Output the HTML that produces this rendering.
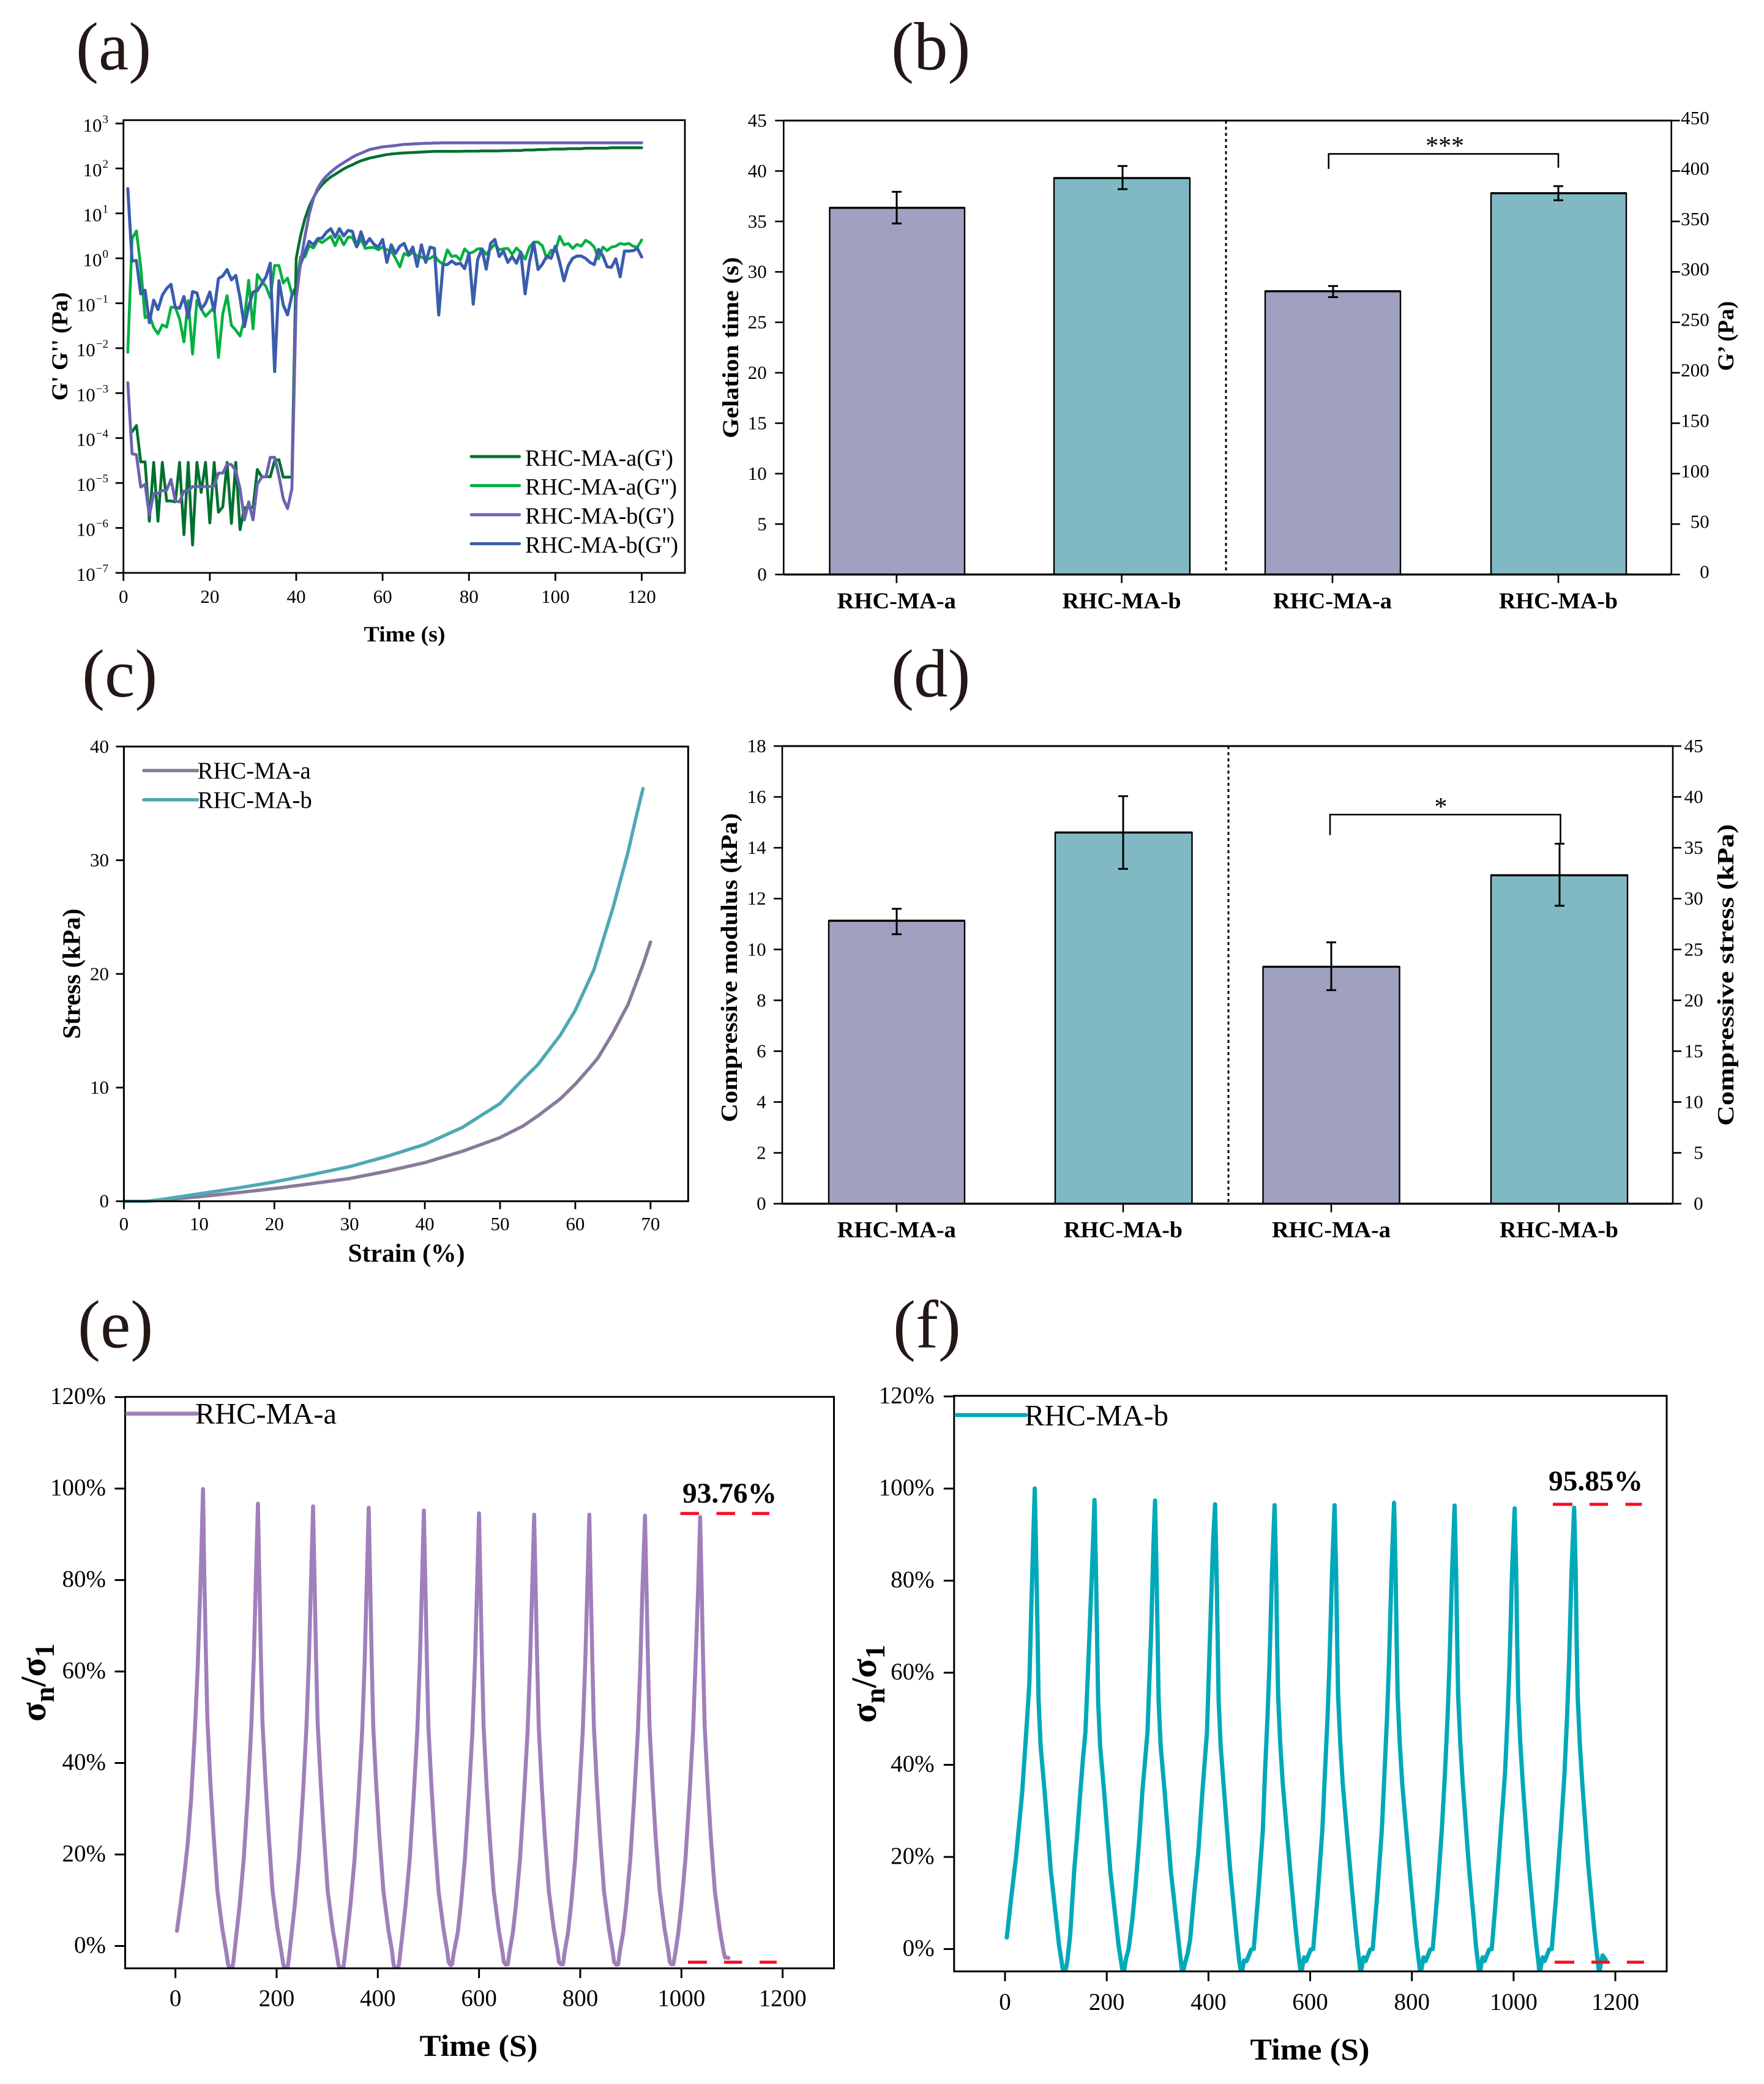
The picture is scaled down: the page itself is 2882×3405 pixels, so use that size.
<!DOCTYPE html>
<html lang="en">
<head>
<meta charset="utf-8">
<title>Hydrogel rheology and compression figure</title>
<style>
html,body{margin:0;padding:0;background:#fff;}
svg{display:block;}
text{font-family:"Liberation Serif",serif;fill:#000;}
.letter{font-size:111px;fill:#231815;}
.b{font-weight:bold;}
</style>
</head>
<body>
<svg id="fig" xmlns="http://www.w3.org/2000/svg" width="2882" height="3405" viewBox="0 0 2882 3405">
<rect x="0" y="0" width="2882" height="3405" fill="#fff"/>
<defs>
<clipPath id="clipE"><rect x="204.5" y="2282.3" width="1158" height="933.7"/></clipPath>
<clipPath id="clipF"><rect x="1558.8" y="2280.6" width="1164.2" height="940.4"/></clipPath>
</defs>

<text class="letter" x="124" y="113.6">(a)</text>
<text class="letter" x="1456" y="113.6">(b)</text>
<text class="letter" x="134" y="1138">(c)</text>
<text class="letter" x="1456" y="1138">(d)</text>
<text class="letter" x="127" y="2201.5">(e)</text>
<text class="letter" x="1459" y="2201.5">(f)</text>

<g id="panelA">
<text class="b" x="661" y="1048" font-size="36" text-anchor="middle" textLength="133" lengthAdjust="spacingAndGlyphs">Time (s)</text>
<text class="b" transform="translate(110,566) rotate(-90)" font-size="37" text-anchor="middle" textLength="177" lengthAdjust="spacingAndGlyphs">G' G'' (Pa)</text>
<text x="858" y="761" font-size="38" textLength="242" lengthAdjust="spacingAndGlyphs">RHC-MA-a(G')</text>
<text x="858" y="808" font-size="38" textLength="248" lengthAdjust="spacingAndGlyphs">RHC-MA-a(G'')</text>
<text x="858" y="855.4" font-size="38" textLength="244" lengthAdjust="spacingAndGlyphs">RHC-MA-b(G')</text>
<text x="858" y="903" font-size="38" textLength="250" lengthAdjust="spacingAndGlyphs">RHC-MA-b(G'')</text>
</g>

<g id="panelB">
<text class="b" transform="translate(1206,568) rotate(-90)" font-size="37" text-anchor="middle" textLength="296" lengthAdjust="spacingAndGlyphs">Gelation time (s)</text>
<text class="b" transform="translate(2832,549) rotate(-90)" font-size="37" text-anchor="middle" textLength="114" lengthAdjust="spacingAndGlyphs">G’ (Pa)</text>
<text x="2360.6" y="252" font-size="42" text-anchor="middle">***</text>
</g>

<g id="panelC">
<text class="b" x="664" y="2061.5" font-size="42" text-anchor="middle" textLength="191" lengthAdjust="spacingAndGlyphs">Strain (%)</text>
<text class="b" transform="translate(130.5,1591) rotate(-90)" font-size="41" text-anchor="middle" textLength="213" lengthAdjust="spacingAndGlyphs">Stress (kPa)</text>
<text x="322.7" y="1272" font-size="38.7" textLength="185" lengthAdjust="spacingAndGlyphs">RHC-MA-a</text>
<text x="322.7" y="1320" font-size="38.7" textLength="187" lengthAdjust="spacingAndGlyphs">RHC-MA-b</text>
</g>

<g id="panelD">
<text class="b" transform="translate(1204,1581) rotate(-90)" font-size="38" text-anchor="middle" textLength="505" lengthAdjust="spacingAndGlyphs">Compressive modulus (kPa)</text>
<text class="b" transform="translate(2832,1593) rotate(-90)" font-size="38" text-anchor="middle" textLength="493" lengthAdjust="spacingAndGlyphs">Compressive stress (kPa)</text>
<text x="2354" y="1332" font-size="42" text-anchor="middle">*</text>
</g>

<g id="panelE">
<text class="b" x="782" y="3359" font-size="49.6" text-anchor="middle" textLength="193" lengthAdjust="spacingAndGlyphs">Time (S)</text>
<text class="b" transform="translate(74,2749) rotate(-90)" font-size="58" text-anchor="middle">σ<tspan font-size="46" dy="14">n</tspan><tspan dy="-14">/σ</tspan><tspan font-size="46" dy="14">1</tspan></text>
<text x="319" y="2326" font-size="48.4" textLength="231" lengthAdjust="spacingAndGlyphs">RHC-MA-a</text>
<text class="b" x="1192" y="2455" font-size="47" text-anchor="middle" textLength="154" lengthAdjust="spacingAndGlyphs">93.76%</text>
</g>

<g id="panelF">
<text class="b" x="2140" y="3365" font-size="49.6" text-anchor="middle" textLength="195" lengthAdjust="spacingAndGlyphs">Time (S)</text>
<text class="b" transform="translate(1431,2751) rotate(-90)" font-size="58" text-anchor="middle">σ<tspan font-size="46" dy="14">n</tspan><tspan dy="-14">/σ</tspan><tspan font-size="46" dy="14">1</tspan></text>
<text x="1674" y="2329" font-size="48.4" textLength="235" lengthAdjust="spacingAndGlyphs">RHC-MA-b</text>
<text class="b" x="2607" y="2435" font-size="47" text-anchor="middle" textLength="154" lengthAdjust="spacingAndGlyphs">95.85%</text>
</g>
</svg>

<script>
/* ---------- Panel (a) data: log10 of modulus, t = 1..120 s ---------- */
const aXTicks = [0, 20, 40, 60, 80, 100, 120];
const aYExponents = [3, 2, 1, 0, -1, -2, -3, -4, -5, -6, -7];
const aGPrimeLog = [null,-3.86,-3.72,-4.53,-4.53,-5.85,-4.54,-5.85,-4.54,-5.4,
-5.4,-5.42,-4.54,-6.15,-4.54,-6.38,-4.54,-5.21,-4.54,-5.89,
-4.54,-5.65,-5.53,-4.54,-5.9,-4.54,-6.04,-5.55,-5.55,-5.55,
-4.7,-4.86,-4.86,-4.86,-4.5,-4.48,-4.87,-4.87,-4.87,0,
0.5,0.88,1.15,1.35,1.52,1.64,1.73,1.81,1.87,1.93,
1.99,2.04,2.08,2.13,2.17,2.2,2.23,2.25,2.27,2.29,
2.31,2.32,2.33,2.34,2.345,2.35,2.355,2.36,2.365,2.37,
2.375,2.38,2.38,2.38,2.38,2.38,2.38,2.38,2.385,2.385,
2.385,2.385,2.39,2.39,2.39,2.39,2.39,2.395,2.395,2.4,
2.4,2.4,2.41,2.41,2.41,2.42,2.42,2.42,2.43,2.43,
2.43,2.43,2.44,2.44,2.44,2.44,2.45,2.45,2.45,2.45,
2.45,2.45,2.46,2.46,2.46,2.46,2.46,2.46,2.46,2.46];
const aGDoubleLog = [-2.09,0.44,0.61,-0.19,-1.32,-1.26,-1.54,-1.68,-1.48,-1.53,
-1.09,-1.09,-1.35,-1.86,-0.94,-2.13,-0.94,-1.13,-1.29,-1.19,
-1.09,-2.21,-1.23,-0.83,-1.49,-1.6,-1.73,-1.35,-0.49,-1.57,
-0.36,-0.5,-0.63,-0.88,-0.16,-0.16,-0.55,-0.44,-0.79,-0.63,
0.03,0.03,0.28,0.23,0.41,0.35,0.42,0.49,0.28,0.5,
0.3,0.47,0.47,0.25,0.43,0.22,0.24,0.24,0.19,0.25,
0.19,0.16,0,-0.19,0.11,0.06,0.14,0.05,0.03,-0.03,
0,0.06,-0.06,-0.13,0.19,0.04,0.06,-0.04,0.21,0.11,
0.14,0.21,0.21,0.09,0.21,0.31,0.19,0.21,0.22,0.09,
0.23,0.13,-0.02,0.25,0.36,0.36,0.28,0,0.18,0.16,
0.49,0.3,0.33,0.22,0.31,0.27,0.4,0.35,0.25,-0.01,
0.25,0.17,0.25,0.27,0.33,0.31,0.33,0.27,0.25,0.41];
const bGPrimeLog = [-2.77,-4.35,-4.37,-5.09,-5.03,-5.72,-5.23,-5.23,-5.17,-5.16,
-4.92,-5.4,-5.42,-5.18,-5.17,-5.08,-5.08,-5.08,-5.08,-5.08,
-5.06,-4.78,-4.78,-4.58,-4.59,-4.73,-5.13,-5.82,-5.42,-5.82,
-5.03,-4.87,-4.86,-4.43,-4.43,-4.84,-5.35,-5.57,-5.13,-0.9,
-0.1,0.48,0.98,1.34,1.56,1.72,1.83,1.92,2,2.07,
2.13,2.19,2.25,2.3,2.34,2.38,2.42,2.44,2.46,2.48,
2.49,2.5,2.51,2.525,2.535,2.54,2.545,2.55,2.555,2.56,
2.56,2.565,2.565,2.57,2.57,2.57,2.57,2.57,2.57,2.57,
2.57,2.57,2.57,2.57,2.57,2.57,2.57,2.57,2.57,2.57,
2.57,2.57,2.57,2.57,2.57,2.57,2.57,2.57,2.57,2.57,
2.57,2.57,2.57,2.57,2.57,2.57,2.57,2.57,2.57,2.57,
2.57,2.57,2.57,2.57,2.57,2.57,2.57,2.57,2.57,2.57];
const bGDoubleLog = [1.55,-0.06,-0.05,-0.79,-0.71,-1.43,-0.93,-1.14,-0.82,-0.67,
-0.58,-1.09,-1.11,-0.85,-1.32,-0.74,-0.77,-1.13,-1,-0.75,
-1.18,-0.45,-0.39,-0.25,-0.48,-0.38,-0.88,-1.52,-1.07,-0.75,
-0.72,-0.57,-0.41,-0.11,-2.52,-0.5,-1.04,-1.26,-0.82,-0.69,
-0.13,0.13,0.38,0.3,0.44,0.45,0.58,0.66,0.47,0.66,
0.5,0.62,0.6,0.26,0.59,0.3,0.44,0.31,0.25,0.42,
-0.09,0.3,0.11,0.27,0.33,0.09,0.25,-0.18,0.3,-0.09,
0.25,0.22,-1.26,-0.14,-0.14,-0.06,-0.13,-0.11,-0.23,0.11,
-1.02,-0.03,0.21,-0.24,0.33,0.42,0.04,0.16,-0.09,0.04,
-0.11,0.14,-0.79,-0.09,0.35,-0.25,-0.13,0.05,0,0.27,
-0.09,-0.5,-0.16,0,0.05,0.05,0,-0.09,-0.14,0.2,
0.06,-0.19,-0.2,-0.01,-0.41,0.16,0.16,0.17,0.22,0.03];

/* ---------- Panel (b) data ---------- */
const bCategories = ["RHC-MA-a", "RHC-MA-b", "RHC-MA-a", "RHC-MA-b"];
const bLeftTicks = [0, 5, 10, 15, 20, 25, 30, 35, 40, 45];
const bRightTicks = [0, 50, 100, 150, 200, 250, 300, 350, 400, 450];
const bGelationValues = [36.35, 39.3];
const bGelationErrTop = [37.94, 40.5];
const bGelationErrBottom = [34.8, 38.2];
const bModulusValues = [280.8, 378];
const bModulusErrTop = [286, 385];
const bModulusErrBottom = [275, 371];

/* ---------- Panel (c) data ---------- */
const cXTicks = [0, 10, 20, 30, 40, 50, 60, 70];
const cYTicks = [0, 10, 20, 30, 40];
const cStrainA = [0, 3, 5, 10, 15, 20, 25, 30, 35, 40, 45, 50, 53, 55, 58, 60, 62, 63, 65, 67, 69, 70];
const cStressA = [0, 0, 0.1, 0.4, 0.75, 1.12, 1.55, 2.0, 2.65, 3.4, 4.4, 5.6, 6.6, 7.5, 9.0, 10.3, 11.8, 12.6, 14.8, 17.3, 20.8, 22.8];
const cStrainB = [0, 3, 5, 10, 15, 20, 25, 30, 35, 40, 45, 50, 53, 55, 58, 60, 62.5, 65, 67, 68, 69];
const cStressB = [0, 0, 0.15, 0.65, 1.15, 1.7, 2.35, 3.05, 3.95, 5.0, 6.5, 8.6, 10.7, 12.0, 14.6, 16.8, 20.4, 25.8, 30.7, 33.6, 36.3];

/* ---------- Panel (d) data ---------- */
const dCategories = ["RHC-MA-a", "RHC-MA-b", "RHC-MA-a", "RHC-MA-b"];
const dLeftTicks = [0, 2, 4, 6, 8, 10, 12, 14, 16, 18];
const dRightTicks = [0, 5, 10, 15, 20, 25, 30, 35, 40, 45];
const dModulusValues = [11.13, 14.6];
const dModulusErrTop = [11.6, 16.03];
const dModulusErrBottom = [10.6, 13.17];
const dStressValues = [23.3, 32.3];
const dStressErrTop = [25.7, 35.4];
const dStressErrBottom = [21.0, 29.3];

/* ---------- Panel (e) data ---------- */
const eXTicks = [0, 200, 400, 600, 800, 1000, 1200];
const eYTicks = [0, 20, 40, 60, 80, 100, 120];
const eTime = [3,10,16,24,31,38,44,50,54.5,57,60,63,69,75,83,93,100,104,108,
113,115,121,127,135,143,150,155,159,163,166,169,172,178,184,192,202,209,213,217,
222,224,230,236,244,252,259,264,268,272,275,278,281,287,293,301,311,318,322,326,
332,334,340,346,354,362,369,374,378,382,385,388,391,397,403,411,421,428,431,435,
441,443,449,455,463,471,478,483,487,491,494,497,500,506,512,520,530,537,540,544,
547,550,558,564,572,580,587,592,596,600,603,606,609,615,621,629,639,646,649,653,
657,660,667,673,681,689,696,701,705,709,712,715,718,724,730,738,748,755,758,762,
766,769,776,782,790,798,805,810,814,818,821,824,827,833,839,847,857,864,867,871,
875,878,885,891,899,907,914,919,923,928,931,934,937,943,949,957,967,974,977,980,
984,988,994,1000,1008,1016,1023,1028,1033,1037,1040,1043,1046,1052,1058,1066,1076,1083,1086,1093];
const eRatio = [3.3,9,14,22,32,46,61,81,99.9,82,65,50,36,25,12,3.5,-1,-4,-5.2,
-4.5,-3,3,9,19,33,48,63,80,96.7,80,63,49,36,25,12,3.5,-1,-4,-5.2,
-4.5,-3,3,9,19,33,48,63,80,96.1,80,63,49,36,25,12,3.5,-1,-4,-5.2,
-4.5,-3,3,9,19,33,47,62,79,95.8,79,62,48,35,24,12,3.5,-1,-4,-5.2,
-4.4,-3,3,9,19,33,47,62,78,95.2,79,62,48,35,24,12,3.5,-1,-3.5,-4.2,
-4,-1.5,3,9,19,33,47,62,78,94.6,78,62,48,35,24,12,3.5,-1,-3.5,-4.1,
-4,-1.5,3,9,19,33,47,62,78,94.3,78,62,48,35,24,12,3.5,-1,-3.5,-4,
-4,-1.5,3,9,19,33,47,62,78,94.3,78,62,48,35,24,12,3.5,-1,-3.5,-4.1,
-4,-1.5,3,9,19,33,47,62,78,94.1,78,62,48,35,24,12,3.5,-1,-3.5,-4,
-4,-1.5,3,9,19,33,47,62,78,93.76,78,62,48,35,24,12,3.5,-1,-2.5,-2.6];

/* ---------- Panel (f) data ---------- */
const fXTicks = [0, 200, 400, 600, 800, 1000, 1200];
const fYTicks = [0, 20, 40, 60, 80, 100, 120];
const fTime = [3.5,12,21.7,33.7,41.7,47.8,51.8,55,58.5,62,64,66,70,78,90,106,113,117,
122,128,136,142,148,153,158,166,173,176,179,181,183,187,195,207,223,230,233,
238,243,250,257,264,270,280,287,292,295,298,300,302,306,314,326,341,346,349,
354,359,364,372,380,388,397,403,409,413,416,418,420,424,431,442,456,461,465,
470,475,484,489,498,507,511,516,520,525,530,533,535,537,541,546,553,560,565,570,575,579,582,
588,592,601,606,615,624,629,634,638,643,648,651,653,655,659,664,671,678,683,688,693,697,699,
705,709,718,723,732,741,746,751,755,760,765,768,770,772,776,781,788,795,800,805,810,814,817,
823,827,836,841,850,859,865,870,874,879,884,887,889,891,895,900,906,912,917,922,926,930,933,
939,943,952,957,966,975,983,988,992,997,1002,1005,1007,1009,1013,1018,1024,1030,1035,1040,1045,1049,1051,
1057,1061,1070,1075,1084,1093,1100,1105,1109,1114,1119,1122,1124,1126,1130,1135,1141,1147,1152,1157,1162,1166,1168,1172,1175,1181];
const fRatio = [2.5,11,20,34,47,57.5,74.5,87,100,81,68,54,44,34,17,1,-4,-5.5,
-3,3,17,25,34,41,47,68,88,97.5,81,68,54,44,34,17,1,-4,-5.5,
-2,0,6,14,24,34,47,68,88,97.4,81,68,54,44,34,17,2,-3,-5.5,
-3,-1,2,12,21,34,47,68,88,96.6,81,68,54,44,34,18,2,-3,-5.5,
-2.5,-2.6,-0.1,0,12,26,38,50,62,82,96.4,82,67,55,45,36,27,18,12,6,0.6,-3,-5.5,
-1.8,-2.6,-0.1,0,12,26,38,50,62,82,96.4,82,67,55,45,36,27,18,12,6,0.6,-3,-5.5,
-1.8,-2.6,-0.1,0,12,26,38,50,62,82,96.9,82,67,55,45,36,27,18,12,6,0.6,-3,-5.5,
-1.8,-2.6,-0.1,0,12,26,38,50,62,82,96.3,82,67,55,45,36,27,18,12,6,0.6,-3,-5.5,
-1.8,-2.6,-0.1,0,12,26,38,50,62,82,95.7,82,67,55,45,36,27,18,12,6,0.6,-3,-5.5,
-1.8,-2.6,-0.1,0,12,26,38,50,62,82,95.85,82,67,55,45,36,27,18,12,6,0.6,-3,-5.5,-2.8,-1.4,-2.3];

/* ---------- helpers ---------- */
const SVGNS = 'http://www.w3.org/2000/svg';
function mk(tag, parent, name, attrs, txt) {
  const el = document.createElementNS(SVGNS, tag);
  
  
  for (const k in attrs) el.setAttribute(k, attrs[k]);
  if (txt !== undefined) el.textContent = txt;
  parent.appendChild(el);
  return el;
}
function lin(d0, d1, r0, r1) { return v => r0 + (v - d0) * (r1 - r0) / (d1 - d0); }
function seg(p, name, x1, y1, x2, y2, w, extra) {
  return mk('line', p, name, Object.assign({x1, y1, x2, y2, stroke: '#000', 'stroke-width': w}, extra || {}));
}
function polyline(p, name, xs, ys, X, Y, color, w, extra) {
  let d = '';
  for (let i = 0; i < xs.length; i++) {
    if (ys[i] === null) continue;
    d += (d ? 'L' : 'M') + X(xs[i]).toFixed(1) + ' ' + Y(ys[i]).toFixed(1);
  }
  return mk('path', p, name, Object.assign({d, fill: 'none', stroke: color, 'stroke-width': w, 'stroke-linejoin': 'round', 'stroke-linecap': 'round'}, extra || {}));
}
function tickLabel(p, name, x, y, size, anchor, txt) {
  return mk('text', p, name, {x, y, 'font-size': size, 'text-anchor': anchor}, txt);
}

/* ---------- Panel a ---------- */
(function () {
  const p = document.getElementById('panelA');
  const L = 201.7, R = 1119, T = 196.3, B = 936;
  const X = lin(0, 130, L, R);
  const Y = lin(-7, 3, B, 201.8);
  const times = aGDoubleLog.map((_, i) => i + 1);
  polyline(p, 'series-a-gdouble', times, aGDoubleLog, X, Y, '#00b140', 4.6);
  polyline(p, 'series-b-gdouble', times, bGDoubleLog, X, Y, '#3a5cad', 5);
  polyline(p, 'series-a-gprime', times, aGPrimeLog, X, Y, '#00702e', 4.6);
  polyline(p, 'series-b-gprime', times, bGPrimeLog, X, Y, '#6a62b0', 4.8);
  mk('rect', p, 'plot-frame-a', {x: L, y: T, width: R - L, height: B - T, fill: 'none', stroke: '#000', 'stroke-width': 2.8});
  aXTicks.forEach(v => {
    seg(p, 'x-tick-a', X(v), B, X(v), B + 13, 2.8);
    tickLabel(p, 'x-tick-label-a', X(v), 985, 31, 'middle', String(v));
  });
  aYExponents.forEach(e => {
    seg(p, 'y-tick-a', L - 13, Y(e), L, Y(e), 2.8);
    const t = tickLabel(p, 'y-tick-label-a', 177, Y(e) + 13, 31, 'end', '10');
    const s = mk('tspan', t, 'y-tick-exponent-a', {'font-size': 19, dy: -14}, e < 0 ? '\u2212' + (-e) : String(e));
    s.setAttribute('dx', 1);
  });
  const legendColors = ['#00702e', '#00b140', '#6a62b0', '#3a5cad'];
  const legendRows = [746, 793.4, 841, 888.4];
  legendColors.forEach((c, i) => {
    seg(p, 'legend-line-a', 770, legendRows[i], 848.6, legendRows[i], 5, {stroke: c, 'stroke-linecap': 'round'});
  });
})();

/* ---------- Bar panels ---------- */
function barPanel(cfg) {
  const p = document.getElementById(cfg.id);
  const YL = lin(0, cfg.leftMax, cfg.B, cfg.T);
  const YR = lin(0, cfg.rightMax, cfg.B, cfg.T);
  const fills = ['#a0a0c0', '#80b9c4'];
  const all = cfg.leftVals.map((v, i) => ({v, t: cfg.leftTop[i], b: cfg.leftBot[i], Y: YL}))
    .concat(cfg.rightVals.map((v, i) => ({v, t: cfg.rightTop[i], b: cfg.rightBot[i], Y: YR})));
  all.forEach((d, i) => {
    const [x0, x1] = cfg.bars[i];
    mk('rect', p, 'bar', {x: x0, y: d.Y(d.v), width: x1 - x0, height: cfg.B - d.Y(d.v), fill: fills[i % 2], stroke: '#000', 'stroke-width': 2.4});
    seg(p, 'bar-top-edge', x0, d.Y(d.v), x1, d.Y(d.v), 3.4);
    const c = cfg.err[i];
    seg(p, 'error-bar', c, d.Y(d.t), c, d.Y(d.b), 3);
    seg(p, 'error-cap-top', c - 8, d.Y(d.t), c + 8, d.Y(d.t), 3);
    seg(p, 'error-cap-bottom', c - 8, d.Y(d.b), c + 8, d.Y(d.b), 3);
  });
  seg(p, 'divider', cfg.div, cfg.T, cfg.div, cfg.B, 3, {'stroke-dasharray': '5 5'});
  seg(p, 'axis-left', cfg.L, cfg.T, cfg.L, cfg.B, 2.6);
  seg(p, 'axis-right', cfg.R, cfg.T, cfg.R, cfg.B, 2.6);
  seg(p, 'axis-top', cfg.L, cfg.T, cfg.R, cfg.T, 3);
  seg(p, 'axis-bottom', cfg.L, cfg.B, cfg.R, cfg.B, 3.4);
  cfg.leftTicks.forEach(v => {
    seg(p, 'y-tick-left', cfg.L - 14, YL(v), cfg.L, YL(v), 2.6);
    tickLabel(p, 'y-tick-label-left', cfg.labL, YL(v) + 10, 31, 'end', String(v));
  });
  cfg.rightTicks.forEach(v => {
    seg(p, 'y-tick-right', cfg.R, YR(v), cfg.R + 14, YR(v), 2.6);
    tickLabel(p, 'y-tick-label-right', cfg.labR, YR(v) + cfg.rOff, 31, 'end', String(v));
  });
  cfg.cats.forEach((c, i) => {
    const cx = cfg.centers[i];
    seg(p, 'x-tick', cx, cfg.B, cx, cfg.B + 14, 2.6);
    mk('text', p, 'x-tick-label', {x: cx, y: cfg.catY, 'font-size': 37, 'font-weight': 'bold', 'text-anchor': 'middle', textLength: 194, lengthAdjust: 'spacingAndGlyphs'}, c);
  });
  const br = cfg.bracket;
  mk('path', p, 'significance-bracket', {d: 'M' + br.x0 + ' ' + br.y0 + 'V' + br.y + 'H' + br.x1 + 'V' + br.y1, fill: 'none', stroke: '#000', 'stroke-width': 2.6});
}
barPanel({
  id: 'panelB', L: 1280.3, R: 2730.7, T: 197, B: 938.7, leftMax: 45, rightMax: 450,
  leftVals: bGelationValues, leftTop: bGelationErrTop, leftBot: bGelationErrBottom,
  rightVals: bModulusValues, rightTop: bModulusErrTop, rightBot: bModulusErrBottom,
  bars: [[1355.5, 1576], [1722, 1944], [2067, 2288], [2436, 2657]],
  err: [1465, 1834, 2178, 2546], centers: [1464.8, 1832.6, 2177, 2546], div: 2003,
  leftTicks: bLeftTicks, rightTicks: bRightTicks, labL: 1252.7, labR: 2792.6, rOff: 6,
  cats: bCategories, catY: 993.8,
  bracket: {x0: 2170.7, x1: 2546, y: 251.4, y0: 276, y1: 274}
});
barPanel({
  id: 'panelD', L: 1278, R: 2733, T: 1219, B: 1966.7, leftMax: 18, rightMax: 45,
  leftVals: dModulusValues, leftTop: dModulusErrTop, leftBot: dModulusErrBottom,
  rightVals: dStressValues, rightTop: dStressErrTop, rightBot: dStressErrBottom,
  bars: [[1354, 1576], [1724, 1947.5], [2063.5, 2286.6], [2436, 2659]],
  err: [1465, 1835, 2175, 2548], centers: [1464.8, 1835, 2175, 2547], div: 2007,
  leftTicks: dLeftTicks, rightTicks: dRightTicks, labL: 1251.6, labR: 2782.6, rOff: 10,
  cats: dCategories, catY: 2021.7,
  bracket: {x0: 2173, x1: 2549.5, y: 1331, y0: 1364.4, y1: 1379}
});

/* ---------- Panel c ---------- */
(function () {
  const p = document.getElementById('panelC');
  const L = 202.4, R = 1124.3, T = 1219.8, B = 1962.7;
  const X = lin(0, 75, L, R);
  const Y = lin(0, 40, B, T);
  polyline(p, 'series-c-a', cStrainA, cStressA, X, Y, '#8a7a9a', 5.5);
  polyline(p, 'series-c-b', cStrainB, cStressB, X, Y, '#4fa9b4', 5.5);
  mk('rect', p, 'plot-frame-c', {x: L, y: T, width: R - L, height: B - T, fill: 'none', stroke: '#000', 'stroke-width': 3});
  cXTicks.forEach(v => {
    seg(p, 'x-tick-c', X(v), B, X(v), B + 13, 2.8);
    tickLabel(p, 'x-tick-label-c', X(v), 2010, 31, 'middle', String(v));
  });
  cYTicks.forEach(v => {
    seg(p, 'y-tick-c', L - 13, Y(v), L, Y(v), 2.8);
    tickLabel(p, 'y-tick-label-c', 178, Y(v) + 10, 31, 'end', String(v));
  });
  seg(p, 'legend-line-c-a', 235, 1259, 322.7, 1259, 5.5, {stroke: '#8a7a9a', 'stroke-linecap': 'round'});
  seg(p, 'legend-line-c-b', 235, 1306.7, 322.7, 1306.7, 5.5, {stroke: '#4fa9b4', 'stroke-linecap': 'round'});
})();

/* ---------- Cyclic panels ---------- */
function cyclicPanel(cfg) {
  const p = document.getElementById(cfg.id);
  const X = lin(-100, 1300, cfg.x0 - 100 * cfg.sx, cfg.x0 + 1300 * cfg.sx);
  const Y = lin(0, 100, cfg.y0, cfg.y100);
  polyline(p, cfg.series, cfg.t, cfg.v, X, Y, cfg.color, cfg.w, {'clip-path': 'url(#' + cfg.clip + ')'});
  mk('rect', p, 'plot-frame', {x: cfg.L, y: cfg.T, width: cfg.R - cfg.L, height: cfg.B - cfg.T, fill: 'none', stroke: '#000', 'stroke-width': 3});
  cfg.xTicks.forEach(v => {
    seg(p, 'x-tick', X(v), cfg.B, X(v), cfg.B + 16, 3);
    tickLabel(p, 'x-tick-label', X(v), cfg.xLabY, 39, 'middle', String(v));
  });
  cfg.yTicks.forEach(v => {
    seg(p, 'y-tick', cfg.L - 17, Y(v), cfg.L, Y(v), 3);
    tickLabel(p, 'y-tick-label', cfg.labR, Y(v) + 11, 39, 'end', v + '%');
  });
  seg(p, 'legend-line', cfg.leg[0], cfg.leg[2], cfg.leg[1], cfg.leg[2], 6.5, {stroke: cfg.color, 'stroke-linecap': 'round'});
  cfg.dashes.forEach(d => {
    seg(p, 'red-reference-dash', d[0], d[2], d[1], d[2], 5, {stroke: '#fb0a23'});
  });
}
cyclicPanel({
  id: 'panelE', clip: 'clipE', series: 'series-e', t: eTime, v: eRatio, color: '#a07fbb', w: 6.5,
  L: 204.5, R: 1362.5, T: 2282.3, B: 3216, x0: 286.6, sx: 0.8267,
  y0: 3179.5, y100: 2432.1, xTicks: eXTicks, yTicks: eYTicks, xLabY: 3277.7, labR: 173,
  leg: [208, 321.4, 2309.7],
  dashes: [[1111.6, 1142, 2472.9], [1170.5, 1201, 2472.9], [1228.6, 1257, 2472.9],
           [1124, 1155, 3206], [1183, 1212.5, 3206], [1241, 1269, 3206]]
});
cyclicPanel({
  id: 'panelF', clip: 'clipF', series: 'series-f', t: fTime, v: fRatio, color: '#00a9b8', w: 7,
  L: 1558.8, R: 2723, T: 2280.6, B: 3221, x0: 1642, sx: 0.8309,
  y0: 3184.5, y100: 2432.1, xTicks: fXTicks, yTicks: fYTicks, xLabY: 3283.5, labR: 1526.6,
  leg: [1562.6, 1676, 2312],
  dashes: [[2537, 2569, 2457.9], [2597, 2627, 2457.9], [2655.5, 2682.5, 2457.9],
           [2540, 2572, 3206], [2600, 2630, 3206], [2658, 2686, 3206]]
});
</script>
</body>
</html>
